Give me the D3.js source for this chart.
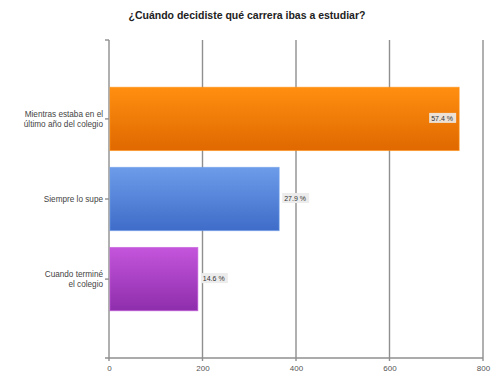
<!DOCTYPE html>
<html>
<head>
<meta charset="utf-8">
<script src="https://cdnjs.cloudflare.com/ajax/libs/d3/7.8.5/d3.min.js"></script>
<style>
body { margin: 0; background: #fff; }
svg { font-family: "Liberation Sans", Arial, sans-serif; }
</style>
</head>
<body>
<script>
// data
var categories = [["Mientras estaba en el", "último año del colegio"], ["Siempre lo supe"], ["Cuando terminé", "el colegio"]];
var values = [749, 364, 190];
var pctLabels = ["57.4 %", "27.9 %", "14.6 %"];
var xTicks = [0, 200, 400, 600, 800];
var colorsTop = ["#ff8f10", "#6d9cea", "#c455dc"];
var colorsBottom = ["#e06800", "#3e6cc8", "#8e2eac"];

var W = 500, H = 380;
// plot box (note: "top" is reserved on window, so use plot* names)
var plotLeft = 109, plotRight = 483, plotTop = 40, plotBottom = 358;

var svg = d3.select("body").append("svg").attr("width", W).attr("height", H);

var defs = svg.append("defs");
values.forEach(function(v, i) {
  var g = defs.append("linearGradient").attr("id", "grad" + i)
    .attr("x1", 0).attr("y1", 0).attr("x2", 0).attr("y2", 1);
  g.append("stop").attr("offset", "0%").attr("stop-color", colorsTop[i]);
  g.append("stop").attr("offset", "100%").attr("stop-color", colorsBottom[i]);
});

var x = d3.scaleLinear().domain([0, 800]).range([plotLeft, plotRight]);
var y = d3.scaleBand().domain(d3.range(values.length)).range([plotTop, plotBottom])
  .paddingInner(0.21).paddingOuter(0.59);

// title
svg.append("text").attr("x", 247).attr("y", 19).attr("text-anchor", "middle")
  .attr("font-size", 10.5).attr("font-weight", "bold").attr("fill", "#222")
  .text("¿Cuándo decidiste qué carrera ibas a estudiar?");

// vertical grid
svg.append("g").selectAll("line").data(xTicks).enter().append("line")
  .attr("x1", function(d) { return x(d); }).attr("x2", function(d) { return x(d); })
  .attr("y1", plotTop).attr("y2", plotBottom + 3)
  .attr("stroke", "#8f8f8f").attr("stroke-width", 1.4);

// little hook on the top of the y axis
svg.append("line").attr("x1", plotLeft - 4).attr("x2", plotLeft).attr("y1", plotTop).attr("y2", plotTop)
  .attr("stroke", "#8f8f8f").attr("stroke-width", 1.4);

// x axis
var xAxis = d3.axisBottom(x).tickValues(xTicks).tickSize(0).tickPadding(7);
var gx = svg.append("g").attr("transform", "translate(0," + plotBottom + ")").call(xAxis);
gx.select(".domain").remove();
gx.selectAll("text").attr("font-size", 8).attr("fill", "#555").attr("font-family", "Liberation Sans, Arial, sans-serif");
svg.append("line").attr("x1", plotLeft - 4).attr("x2", plotRight).attr("y1", plotBottom).attr("y2", plotBottom)
  .attr("stroke", "#8f8f8f").attr("stroke-width", 1.4);

// bars
svg.append("g").selectAll("rect").data(values).enter().append("rect")
  .attr("x", x(0) + 1)
  .attr("y", function(d, i) { return y(i); })
  .attr("width", function(d) { return x(d) - x(0) - 1; })
  .attr("height", y.bandwidth())
  .attr("fill", function(d, i) { return "url(#grad" + i + ")"; })
  .attr("stroke", function(d, i) { return colorsTop[i]; })
  .attr("stroke-opacity", 0.6).attr("stroke-width", 1);

// category ticks and labels
categories.forEach(function(lines, i) {
  var cy = y(i) + y.bandwidth() / 2;
  svg.append("line").attr("x1", plotLeft - 4).attr("x2", plotLeft).attr("y1", cy).attr("y2", cy)
    .attr("stroke", "#8f8f8f").attr("stroke-width", 1.4);
  var t = svg.append("text").attr("text-anchor", "end").attr("font-size", 8.2).attr("fill", "#444");
  lines.forEach(function(s, j) {
    t.append("tspan").attr("x", plotLeft - 6)
      .attr("y", cy + 3 + (j - (lines.length - 1) / 2) * 10).text(s);
  });
});

// value labels
values.forEach(function(v, i) {
  var cy = y(i) + y.bandwidth() / 2;
  var inside = i === 0;
  var bw = 27, bh = 10;
  var bx = inside ? x(v) - bw - 3 : x(v) + 3;
  svg.append("rect").attr("x", bx).attr("y", cy - bh / 2 - 1).attr("width", bw).attr("height", bh)
    .attr("fill", "#ececec").attr("fill-opacity", inside ? 0.9 : 1);
  svg.append("text").attr("x", bx + 2).attr("y", cy + 2).attr("font-size", 7)
    .attr("fill", "#333").text(pctLabels[i]);
});
</script>
</body>
</html>
